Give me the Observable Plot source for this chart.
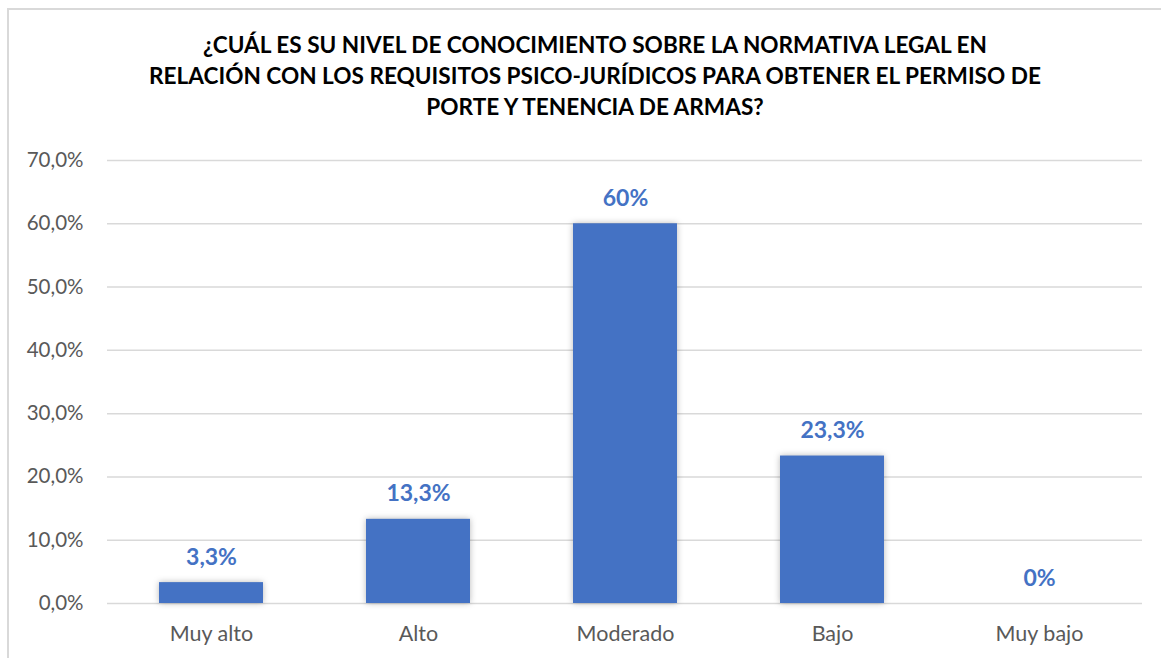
<!DOCTYPE html>
<html>
<head>
<meta charset="utf-8">
<script src="https://cdn.jsdelivr.net/npm/d3@7"></script>
<script src="https://cdn.jsdelivr.net/npm/@observablehq/plot@0.6"></script>
<style>
  html, body { margin: 0; padding: 0; background: #fff; width: 1161px; height: 658px; overflow: hidden; }
  #frame { position: absolute; left: 7px; top: 8px; width: 1170px; height: 700px; border: 2px solid #d9d9d9; box-sizing: border-box; }
  #title { position: absolute; left: 0; top: 29px; width: 1190px; text-align: center; font-family: Lato, sans-serif; font-weight: 700; font-size: 22.6px; line-height: 31px; color: #000; }
  #chart { position: absolute; left: 0; top: 130px; }
  g[aria-label="bar"] rect { filter: drop-shadow(0 0 3px rgba(0,0,0,0.28)); }
</style>
</head>
<body>
<div id="frame"></div>
<div id="title">¿CUÁL ES SU NIVEL DE CONOCIMIENTO SOBRE LA NORMATIVA LEGAL EN<br>RELACIÓN CON LOS REQUISITOS PSICO-JURÍDICOS PARA OBTENER EL PERMISO DE<br>PORTE Y TENENCIA DE ARMAS?</div>
<div id="chart"></div>
<script>
const categories = ["Muy alto", "Alto", "Moderado", "Bajo", "Muy bajo"];
const values = [3.3, 13.3, 60, 23.3, 0];
const valueLabels = ["3,3%", "13,3%", "60%", "23,3%", "0%"];
const yTicks = [0, 10, 20, 30, 40, 50, 60, 70];
const yTickLabels = ["0,0%", "10,0%", "20,0%", "30,0%", "40,0%", "50,0%", "60,0%", "70,0%"];

const data = categories.map((c, i) => ({cat: c, value: values[i], label: valueLabels[i]}));

const plot = Plot.plot({
  width: 1161,
  height: 528,
  marginLeft: 107,
  marginRight: 19,
  marginTop: 30,
  marginBottom: 55,
  style: {fontFamily: "Lato, sans-serif", background: "transparent"},
  x: {domain: categories, paddingInner: 0.5, paddingOuter: 0.25, label: null},
  y: {domain: [0, 70], label: null},
  marks: [
    Plot.gridY(yTicks, {stroke: "#d9d9d9", strokeOpacity: 1, strokeWidth: 1.5}),
    Plot.axisY(yTicks, {tickSize: 0, tickPadding: 24, tickFormat: (d) => yTickLabels[yTicks.indexOf(d)], fontSize: 20.5, fill: "#595959", label: null}),
    Plot.axisX({tickSize: 0, tickPadding: 22, fontSize: 21.5, fill: "#595959", label: null}),
    Plot.barY(data, {x: "cat", y: "value", fill: "#4472c4"}),
    Plot.text(data, {x: "cat", y: "value", text: "label", lineAnchor: "bottom", dy: -18, fill: "#4472c4", fontWeight: "bold", fontSize: 23})
  ]
});
document.getElementById("chart").appendChild(plot);
</script>
</body>
</html>
